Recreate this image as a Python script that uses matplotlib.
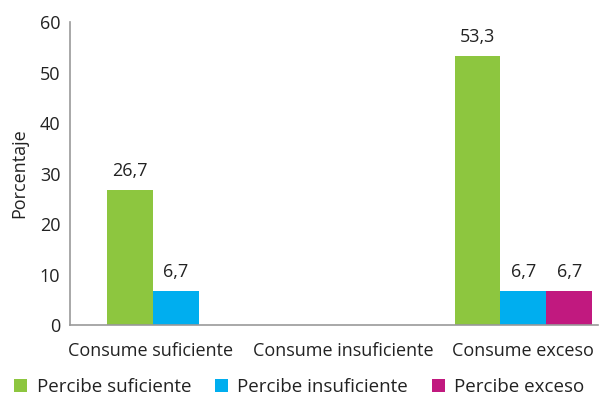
import matplotlib.pyplot as plt
import numpy as np
from matplotlib.transforms import ScaledTranslation

plt.rcParams['font.family'] = ['Open Sans', 'DejaVu Sans']

categories = ['Consume suficiente', 'Consume insuficiente', 'Consume exceso']
series = ['Percibe suficiente', 'Percibe insuficiente', 'Percibe exceso']
values = {
    'Percibe suficiente': [26.7, 0, 53.3],
    'Percibe insuficiente': [6.7, 0, 6.7],
    'Percibe exceso': [0, 0, 6.7],
}
colors = ['#8DC63F', '#00AEEF', '#C1197F']
txt = '#222222'
fs = 13

fig = plt.figure(figsize=(5.99, 3.95), dpi=100)
ax = fig.add_axes([70 / 599, 70 / 395, 528 / 599, 303 / 395])

x = np.arange(len(categories))
w = 0.264
for i, (name, c) in enumerate(zip(series, colors)):
    vals = values[name]
    bars = ax.bar(x + (i - 1) * w, vals, width=w, color=c, label=name, zorder=2)
    for b, v in zip(bars, vals):
        if v > 0:
            ax.text(b.get_x() + b.get_width() / 2, v + 2.0, f'{v:.1f}'.replace('.', ','),
                    ha='center', va='bottom', fontsize=fs, color=txt)

ax.set_xlim(-0.61, 2.43)
ax.set_ylim(0, 60)
ax.set_yticks(range(0, 61, 10))
ax.set_xticks(x)
ax.set_xticklabels(categories, fontsize=fs, color=txt)
ax.tick_params(axis='y', labelsize=fs, labelcolor=txt, length=0, pad=7)
ax.tick_params(axis='x', length=0, pad=12)
ax.set_ylabel('Porcentaje', fontsize=fs, color=txt, labelpad=8)

# nudge the first two category labels left so they don't collide
for lab, dx in zip(ax.get_xticklabels(), [-0.25, -0.06, 0.0]):
    lab.set_transform(lab.get_transform() + ScaledTranslation(dx, 0, fig.dpi_scale_trans))

for s in ['top', 'right']:
    ax.spines[s].set_visible(False)
for s in ['left', 'bottom']:
    ax.spines[s].set_color('#999999')
    ax.spines[s].set_linewidth(1.2)
    ax.spines[s].set_zorder(3)

fig.legend(loc='lower left', bbox_to_anchor=(-0.004, -0.045), ncol=3, frameon=False,
           fontsize=13.5, handlelength=0.68, handleheight=0.68, handletextpad=0.5,
           columnspacing=1.28, labelcolor=txt)

fig.savefig('out.png', dpi=100)
